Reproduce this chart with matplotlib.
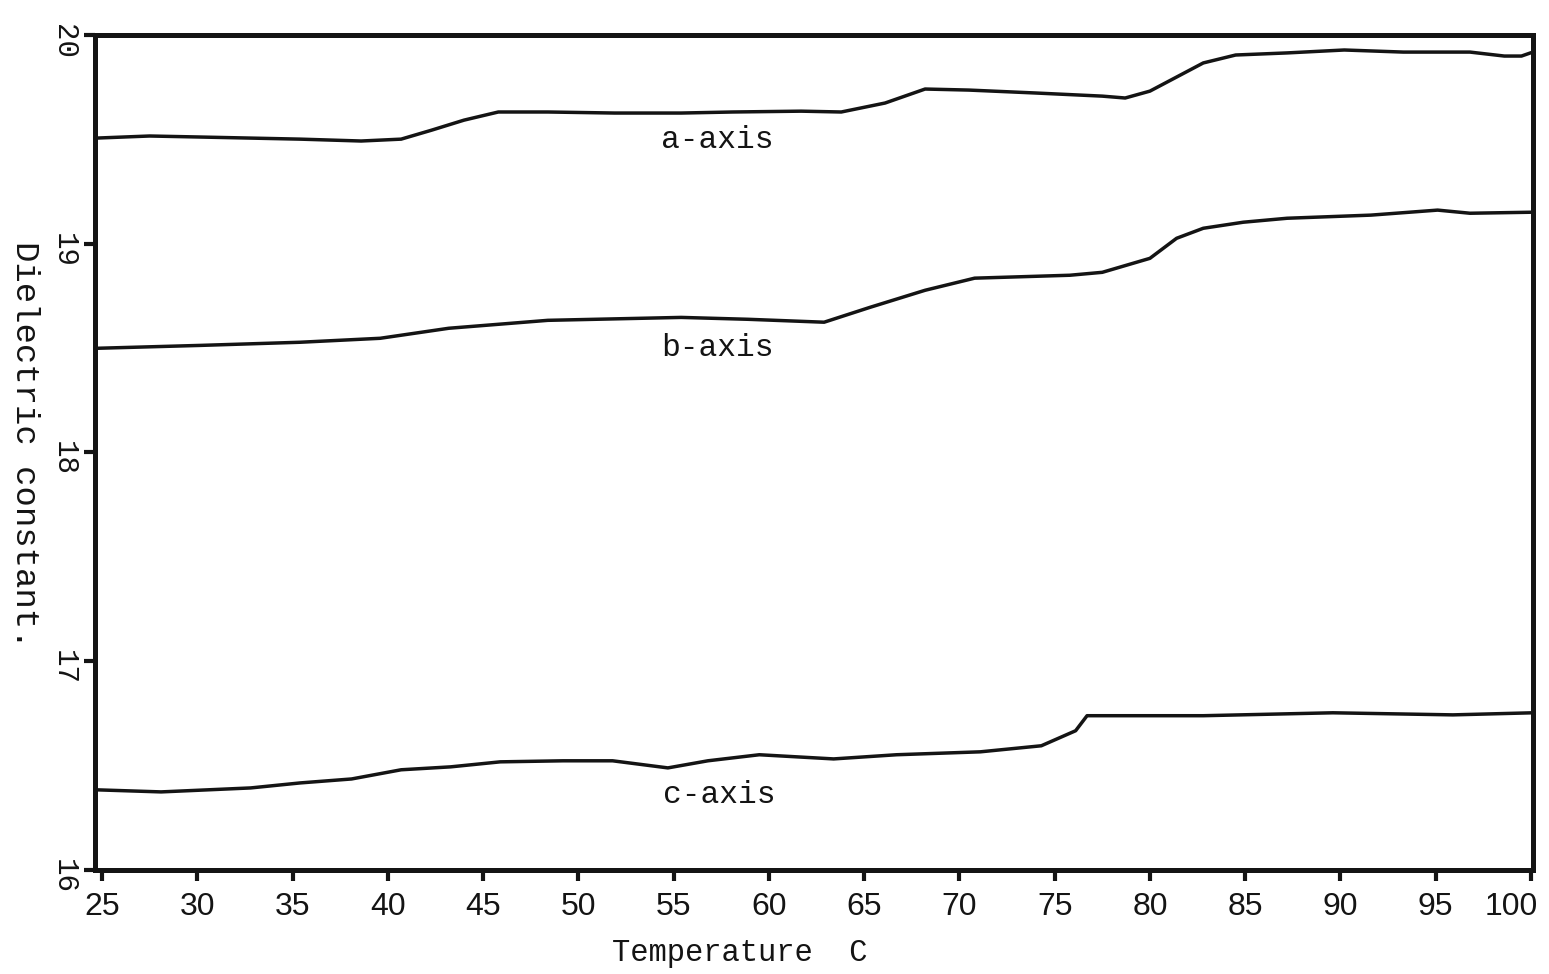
import matplotlib
matplotlib.use("Agg")
import matplotlib.pyplot as plt
import matplotlib.transforms as mtransforms

# temperature (C) and dielectric constant
temp_a = [24.7, 27.5, 30.2, 35.4, 38.6, 40.7, 42.3, 44.0, 45.8, 48.4, 51.9, 55.4, 58.1,
          61.7, 63.8, 66.1, 68.2, 70.5, 74.0, 77.5, 78.7, 80.0, 81.1, 82.8, 84.5, 87.2,
          90.2, 93.3, 96.8, 98.6, 99.5, 100.1]
eps_a = [19.506, 19.516, 19.511, 19.501, 19.492, 19.501, 19.544, 19.592, 19.631, 19.631,
         19.626, 19.626, 19.631, 19.635, 19.631, 19.674, 19.741, 19.736, 19.722, 19.707,
         19.698, 19.731, 19.784, 19.866, 19.904, 19.914, 19.928, 19.918, 19.918, 19.899,
         19.899, 19.918]

temp_b = [24.7, 30.2, 35.4, 39.6, 43.2, 48.4, 55.4, 58.9, 62.9, 65.3, 68.2, 70.8, 75.8,
          77.5, 80.0, 81.4, 82.8, 84.9, 87.2, 91.6, 95.1, 96.8, 100.1]
eps_b = [18.499, 18.513, 18.528, 18.547, 18.595, 18.633, 18.647, 18.638, 18.624, 18.695,
         18.777, 18.835, 18.849, 18.863, 18.930, 19.026, 19.074, 19.103, 19.122, 19.137,
         19.161, 19.146, 19.151]

temp_c = [24.7, 28.1, 32.8, 35.4, 38.1, 40.7, 43.3, 45.9, 49.2, 51.8, 54.7, 56.8, 59.5,
          63.4, 66.7, 71.1, 74.3, 76.1, 76.7, 78.7, 82.8, 89.6, 95.9, 100.1]
eps_c = [16.384, 16.374, 16.393, 16.417, 16.436, 16.480, 16.494, 16.518, 16.523, 16.523,
         16.489, 16.523, 16.552, 16.532, 16.552, 16.566, 16.595, 16.667, 16.739, 16.739,
         16.739, 16.753, 16.743, 16.753]

series_names = ["a-axis", "b-axis", "c-axis"]
label_pos = [(57.3, 19.497), (57.3, 18.50), (57.4, 16.36)]

x_ticks = [25, 30, 35, 40, 45, 50, 55, 60, 65, 70, 75, 80, 85, 90, 95, 100]
y_ticks = [16, 17, 18, 19, 20]

ink = "#141414"
typewriter = ["Liberation Mono", "DejaVu Sans Mono"]

fig = plt.figure(figsize=(15.49, 9.74), dpi=100)
ax = fig.add_axes([0.0613, 0.1068, 0.9283, 0.8573])

for t, e in [(temp_a, eps_a), (temp_b, eps_b), (temp_c, eps_c)]:
    ax.plot(t, e, color=ink, linewidth=2.5, solid_capstyle="round",
            solid_joinstyle="round")

for name, (tx, ty) in zip(series_names, label_pos):
    ax.text(tx, ty, name, ha="center", va="center", fontsize=22.5,
            family=typewriter, color=ink)

ax.set_xlim(24.63, 100.1)
ax.set_ylim(16, 20)

ax.set_xticks(x_ticks)
ax.set_xticklabels([str(v) for v in x_ticks], fontsize=23,
                   family=["Liberation Sans", "DejaVu Sans"], color=ink)
ax.set_yticks(y_ticks)
ax.set_yticklabels([str(v) for v in y_ticks], fontsize=21, family=typewriter,
                   rotation=-90, color=ink)
ax.tick_params(axis="x", direction="out", length=8, width=3, pad=8, color=ink)
ax.tick_params(axis="y", direction="out", length=8, width=3, pad=4, color=ink)

# the "100" was written a little to the left of its tick, inside the page
last = ax.get_xticklabels()[-1]
last.set_transform(last.get_transform()
                   + mtransforms.ScaledTranslation(-0.2, 0, fig.dpi_scale_trans))

for sp in ax.spines.values():
    sp.set_linewidth(3.6)
    sp.set_color(ink)

fig.text(740 / 1549, 1 - 953 / 974, "Temperature  C", ha="center", va="center",
         fontsize=22, family=typewriter, color=ink)
fig.text(24 / 1549, 1 - 445 / 974, "Dielectric constant.", ha="center", va="center",
         rotation=-90, fontsize=24.5, family=typewriter, color=ink)

fig.savefig("out.png", dpi=100, facecolor="white")
